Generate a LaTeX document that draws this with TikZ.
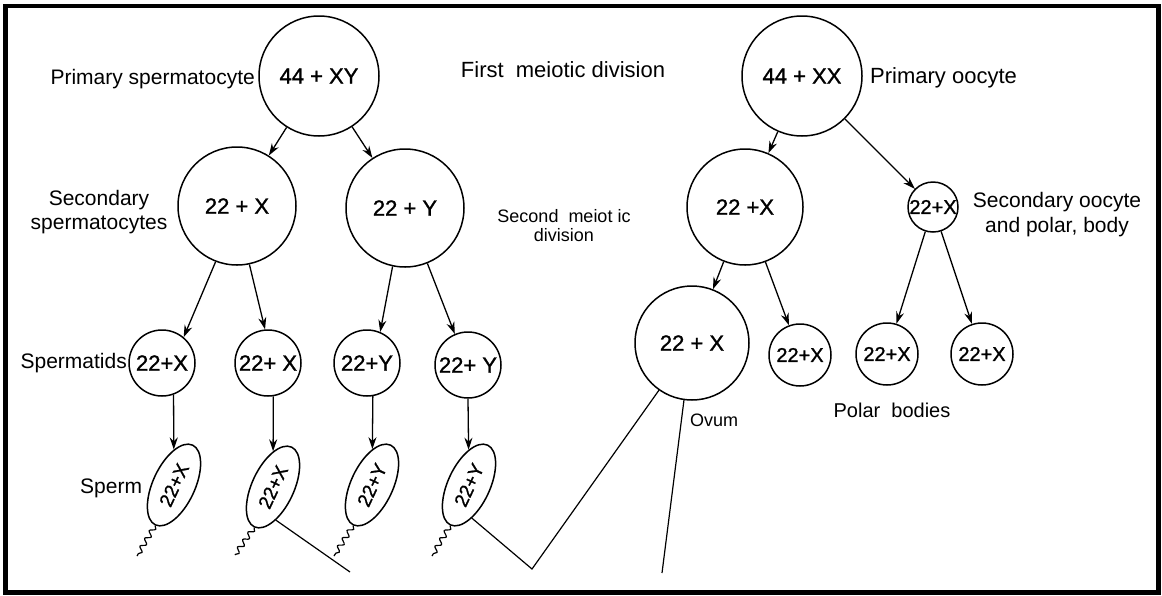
\documentclass[tikz,border=0pt]{standalone}
\usepackage{fontspec}
\setmainfont{Liberation Sans}
\newfontfamily\cellfont[FakeBold=1.2]{Liberation Sans}
\usetikzlibrary{arrows.meta,shapes.geometric,decorations.pathmorphing}
\begin{document}
\begin{tikzpicture}[x=1pt,y=-1pt,
  cell/.style={circle,draw,line width=1.5pt,inner sep=0pt,font=\cellfont\fontsize{22}{24}\selectfont},
  small/.style={cell,font=\cellfont\fontsize{20}{22}\selectfont},
  lab/.style={font=\fontsize{21}{24}\selectfont,align=center,inner sep=0pt},
  arr/.style={line width=1.3pt,-{Stealth[length=12pt,width=8pt]}},
  sperm/.style={ellipse,draw,line width=1.5pt,minimum width=88pt,minimum height=42pt,inner sep=0pt,rotate=65,font=\cellfont\fontsize{19}{21}\selectfont},
  tail/.style={line width=1.2pt,decorate,decoration={snake,segment length=9pt,amplitude=2.5pt}},
  link/.style={line width=1.2pt}]
\useasboundingbox (0,0) rectangle (1162,595);
\draw[line width=4.5pt] (5.3,6.2) rectangle (1158.7,592.5);

% male line
\node[cell,minimum size=120pt] (xy) at (319,76) {44 + XY};
\node[cell,minimum size=118pt] (x2) at (237,206) {22 + X};
\node[cell,minimum size=118pt] (y2) at (405,208) {22 + Y};
\node[cell,minimum size=66pt] (t1) at (162,363) {22+X};
\node[cell,minimum size=66pt] (t2) at (268,363) {22+ X};
\node[cell,minimum size=66pt] (t3) at (367,363) {22+Y};
\node[cell,minimum size=66pt] (t4) at (468,365) {22+ Y};
\node[sperm] (s1) at (174,485) {22+X};
\node[sperm] (s2) at (273,487) {22+X};
\node[sperm] (s3) at (372,485) {22+Y};
\node[sperm] (s4) at (469,485) {22+Y};

% female line
\node[cell,minimum size=120pt] (xx) at (802,76) {44 + XX};
\node[cell,minimum size=116pt] (o2) at (745,207) {22 +X};
\node[small,minimum size=50pt] (p0) at (933,207) {22+X};
\node[cell,minimum size=114pt] (ov) at (692,343) {22 + X};
\node[small,minimum size=62pt] (pb1) at (800,355) {22+X};
\node[small,minimum size=62pt] (pb2) at (887,354) {22+X};
\node[small,minimum size=62pt] (pb3) at (982,354) {22+X};

% labels
\node[lab,anchor=east] (l1) at (255,79) {Primary spermatocyte};
\node[lab,font=\fontsize{22}{24}\selectfont] (l2) at (563,70) {First\ \ meiotic division};
\node[lab,anchor=west,font=\fontsize{22}{24}\selectfont] (l3) at (870,78) {Primary oocyte};
\node[lab] (l4) at (99,212) {Secondary\\spermatocytes};
\node[lab,font=\fontsize{18}{19}\selectfont] (l5) at (564,226) {Second\ \ meiot ic\\division};
\node[lab,font=\fontsize{21}{25}\selectfont] (l6) at (1057,215) {Secondary oocyte\\and polar, body};
\node[lab,anchor=east] (l7) at (127,363) {Spermatids};
\node[lab,anchor=west] (l8) at (80,488) {Sperm};
\node[lab,anchor=west,font=\fontsize{18}{20}\selectfont] (l9) at (690,420) {Ovum};
\node[lab,font=\fontsize{20}{22}\selectfont] (l10) at (892,410) {Polar\ \ bodies};

% arrows
\draw[arr] (xy) -- (x2);
\draw[arr] (xy) -- (y2);
\draw[arr] (x2.-111) -- (t1.50);
\draw[arr] (x2.-78) -- (t2.95);
\draw[arr] (y2.-102) -- (t3.67);
\draw[arr] (y2.-68) -- (t4.113);
\draw[arr] (t1.-70) -- (s1);
\draw[arr] (t2.-81) -- (s2);
\draw[arr] (t3.-80) -- (s3);
\draw[arr] (t4.-90) -- (s4);
\draw[arr] (xx) -- (o2);
\draw[arr] (xx) -- (p0);
\draw[arr] (o2) -- (ov);
\draw[arr] (o2) -- (pb1);
\draw[arr] (p0) -- (pb2);
\draw[arr] (p0) -- (pb3);

% tails
\coordinate (e1) at (137,556);
\coordinate (e2) at (235,555);
\coordinate (e3) at (334,556);
\coordinate (e4) at (432,556);
\draw[tail] (s1.west) -- (e1);
\draw[tail] (s2.west) -- (e2);
\draw[tail] (s3.west) -- (e3);
\draw[tail] (s4.west) -- (e4);

% fertilisation lines
\coordinate (c1) at (350,572);
\coordinate (c2) at (532,569);
\coordinate (c4) at (662,573);
\draw[link] (s2.-150) -- (c1);
\draw[link] (s4.-150) -- (c2) -- (ov.-125);
\draw[link] (ov.-98) -- (c4);
\end{tikzpicture}
\end{document}
